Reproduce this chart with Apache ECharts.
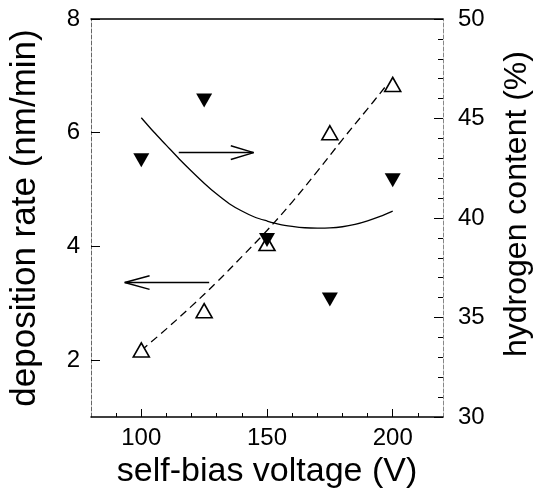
<!DOCTYPE html>
<html><head><meta charset="utf-8">
<script src="https://cdn.jsdelivr.net/npm/echarts@6/dist/echarts.min.js"></script>
<style>html,body{margin:0;padding:0;background:#fff}#c{width:534px;height:491px}</style>
</head><body><div id="c"></div>
<script>
// measured points
const voltage = [100, 125, 150, 175, 200];
const depositionRate = [2.18, 2.87, 4.05, 6.0, 6.85];      // left axis, open triangles
const hydrogenContent = [42.9, 45.9, 38.9, 35.9, 41.9];     // right axis, filled down triangles
// fitted curves
const depositionFitV = [100, 110, 120, 130, 140, 150, 160, 170, 180, 190, 198];
const depositionFitY = [2.17, 2.55, 2.95, 3.37, 3.82, 4.28, 4.78, 5.32, 5.88, 6.42, 6.86];
const hydrogenFitV = [100, 105, 110, 115, 120, 125, 130, 135, 140, 145, 150, 155, 160, 165, 170, 175, 180, 185, 190, 195, 200];
const hydrogenFitY = [45.04, 44.32, 43.65, 42.98, 42.35, 41.75, 41.2, 40.72, 40.35, 40.05, 39.85, 39.68, 39.58, 39.51, 39.49, 39.5, 39.56, 39.68, 39.86, 40.08, 40.35];
// annotation arrows (data coordinates on left axis)
const arrowRightShaft = [[114.9, 5.65], [144.7, 5.65]];
const arrowRightHead = [[135.6, 5.77], [144.7, 5.65], [135.6, 5.53]];
const arrowLeftShaft = [[127.0, 3.365], [93.4, 3.365]];
const arrowLeftHead = [[103.3, 3.485], [93.4, 3.365], [103.3, 3.245]];
// ticks
const xLabels = [100, 150, 200];
const xMinorTicks = [90, 110, 120, 130, 140, 160, 170, 180, 190, 210];
const leftLabels = [2, 4, 6, 8];

const FONT = 'Liberation Sans, Arial, sans-serif';
const zip = (a, b) => a.map((v, i) => [v, b[i]]);

const chart = echarts.init(document.getElementById('c'), null, {renderer: 'canvas'});
chart.setOption({
  animation: false,
  backgroundColor: '#fff',
  grid: {left: 91, right: 91, top: 19, bottom: 74, containLabel: false, outerBoundsMode: 'none'},
  xAxis: [
    {
      type: 'value', position: 'bottom', min: 80, max: 220,
      axisLine: {show: true, lineStyle: {color: '#000', width: 1.5}},
      axisTick: {show: true, inside: true, length: 8, customValues: xLabels, lineStyle: {color: '#000'}},
      axisLabel: {customValues: xLabels, fontSize: 24, color: '#000', margin: 9, fontFamily: FONT},
      splitLine: {show: false},
      name: 'self-bias voltage (V)', nameLocation: 'middle', nameGap: 31,
      nameTextStyle: {fontSize: 34, color: '#000', fontFamily: FONT}
    },
    {
      type: 'value', position: 'bottom', min: 80, max: 220,
      axisLine: {show: false},
      axisTick: {show: true, inside: true, length: 4, customValues: xMinorTicks, lineStyle: {color: '#000'}},
      axisLabel: {show: false}, splitLine: {show: false}
    },
    {
      type: 'value', position: 'top', min: 80, max: 220,
      axisLine: {show: true, lineStyle: {color: '#000', width: 1.5}},
      axisTick: {show: false}, axisLabel: {show: false}, splitLine: {show: false}
    }
  ],
  yAxis: [
    {
      type: 'value', position: 'left', min: 1, max: 8,
      axisLine: {show: true, lineStyle: {color: '#666', width: 1, type: [4, 2]}},
      axisTick: {show: true, inside: true, length: 9, customValues: leftLabels, lineStyle: {color: '#000'}},
      axisLabel: {customValues: leftLabels, fontSize: 24, color: '#000', margin: 11, fontFamily: FONT},
      splitLine: {show: false},
      name: 'deposition rate (nm/min)', nameLocation: 'middle', nameRotate: 90, nameGap: 48,
      nameTextStyle: {fontSize: 35, color: '#000', fontFamily: FONT}
    },
    {
      type: 'value', position: 'right', min: 30, max: 50, interval: 5,
      axisLine: {show: true, lineStyle: {color: '#888', width: 1, type: [4, 2]}},
      axisTick: {show: true, inside: true, length: 9, lineStyle: {color: '#000'}},
      minorTick: {show: true, splitNumber: 5, length: 5, lineStyle: {color: '#000'}},
      axisLabel: {fontSize: 24, color: '#000', margin: 15, fontFamily: FONT},
      splitLine: {show: false}, minorSplitLine: {show: false},
      name: 'hydrogen content (%)', nameLocation: 'middle', nameRotate: 90, nameGap: 58,
      nameTextStyle: {fontSize: 32, color: '#000', fontFamily: FONT, padding: [0, 0, 0, 28]}
    }
  ],
  series: [
    {
      type: 'line', xAxisIndex: 0, yAxisIndex: 1, smooth: 0.3, showSymbol: false, silent: true,
      data: zip(hydrogenFitV, hydrogenFitY), lineStyle: {color: '#000', width: 1.3}, z: 2
    },
    {
      type: 'line', xAxisIndex: 0, yAxisIndex: 0, smooth: 0.4, showSymbol: false, silent: true,
      data: zip(depositionFitV, depositionFitY), lineStyle: {color: '#000', width: 1.3, type: [8, 5]}, z: 2
    },
    {
      type: 'scatter', xAxisIndex: 0, yAxisIndex: 0, symbol: 'triangle', symbolSize: [16, 14],
      data: zip(voltage, depositionRate),
      itemStyle: {color: '#fff', borderColor: '#000', borderWidth: 1.6, opacity: 1}, z: 4
    },
    {
      type: 'scatter', xAxisIndex: 0, yAxisIndex: 1, symbol: 'triangle', symbolRotate: 180, symbolSize: [16, 14],
      data: zip(voltage, hydrogenContent),
      itemStyle: {color: '#000', opacity: 1}, z: 5
    },
    {type: 'line', xAxisIndex: 0, yAxisIndex: 0, showSymbol: false, silent: true, data: arrowRightShaft, lineStyle: {color: '#000', width: 1.5}, z: 3},
    {type: 'line', xAxisIndex: 0, yAxisIndex: 0, showSymbol: false, silent: true, data: arrowRightHead, lineStyle: {color: '#000', width: 1.5}, z: 3},
    {type: 'line', xAxisIndex: 0, yAxisIndex: 0, showSymbol: false, silent: true, data: arrowLeftShaft, lineStyle: {color: '#000', width: 1.5}, z: 3},
    {type: 'line', xAxisIndex: 0, yAxisIndex: 0, showSymbol: false, silent: true, data: arrowLeftHead, lineStyle: {color: '#000', width: 1.5}, z: 3}
  ]
});
</script>
</body></html>
